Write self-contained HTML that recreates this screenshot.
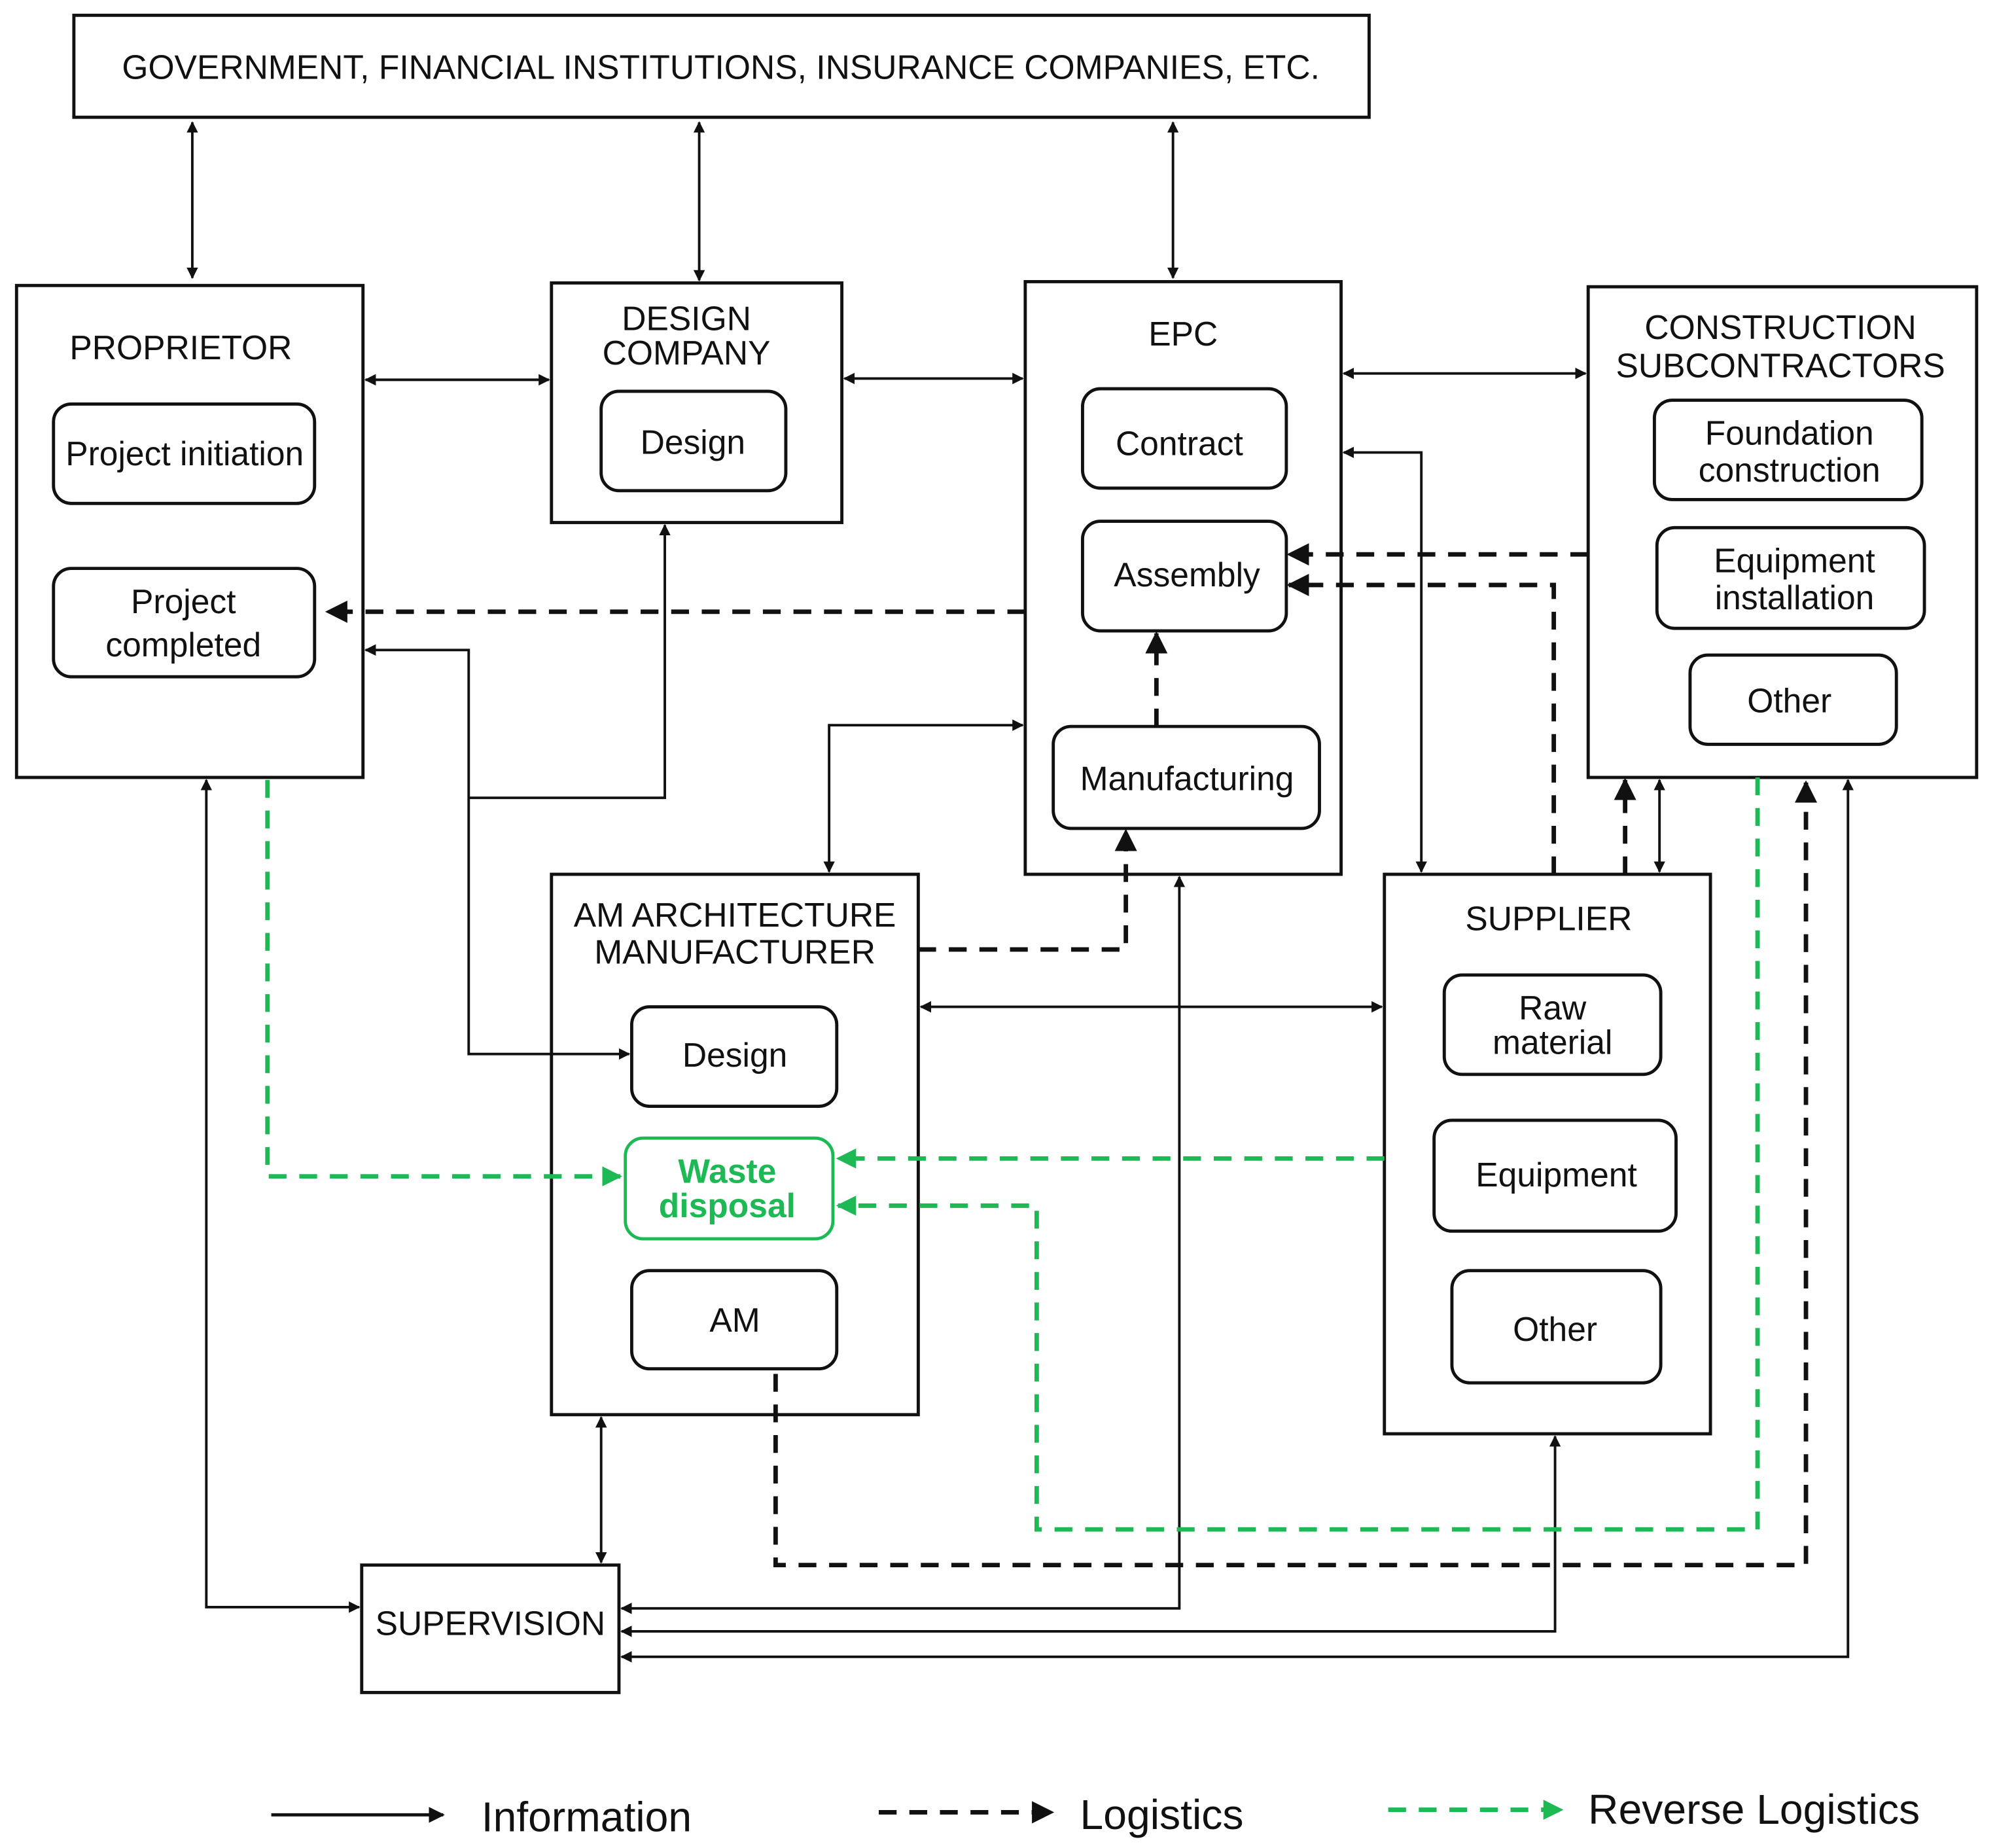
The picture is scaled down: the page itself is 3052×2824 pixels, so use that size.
<!DOCTYPE html>
<html><head><meta charset="utf-8"><style>
html,body{margin:0;padding:0;background:#fff;}
svg{display:block;}
text{font-family:"Liberation Sans",sans-serif;fill:#111;}
</style></head><body>
<svg width="3052" height="2824" viewBox="0 0 1568 1450" preserveAspectRatio="none" xmlns="http://www.w3.org/2000/svg">
<defs>
<marker id="a" viewBox="0 0 10 10" refX="9" refY="5" markerWidth="5" markerHeight="5" orient="auto-start-reverse"><path d="M0,0L10,5L0,10z" fill="#111"/></marker>
<marker id="b" viewBox="0 0 10 10" refX="9" refY="5" markerWidth="4.5" markerHeight="4.5" orient="auto-start-reverse"><path d="M0,0L10,5L0,10z" fill="#111"/></marker>
<marker id="g" viewBox="0 0 10 10" refX="9" refY="5" markerWidth="4.5" markerHeight="4.5" orient="auto-start-reverse"><path d="M0,0L10,5L0,10z" fill="#1db954"/></marker>
</defs>
<g fill="none" stroke="#111" stroke-width="2.5">
<rect x="58" y="12" width="1017" height="80"/>
<rect x="13" y="224" width="272" height="386"/>
<rect x="433" y="222" width="228" height="188"/>
<rect x="805" y="221" width="248" height="465"/>
<rect x="1247" y="225" width="305" height="385"/>
<rect x="433" y="686" width="288" height="424"/>
<rect x="1087" y="686" width="256" height="439"/>
<rect x="284" y="1228" width="202" height="100"/>
<rect x="42" y="317" width="205" height="78" rx="14"/>
<rect x="42" y="446" width="205" height="85" rx="14"/>
<rect x="472" y="307" width="145" height="78" rx="14"/>
<rect x="850" y="305" width="160" height="78" rx="14"/>
<rect x="850" y="409" width="160" height="86" rx="14"/>
<rect x="827" y="570" width="209" height="80" rx="14"/>
<rect x="1299" y="314" width="210" height="78" rx="14"/>
<rect x="1301" y="414" width="210" height="79" rx="14"/>
<rect x="1327" y="514" width="162" height="70" rx="14"/>
<rect x="496" y="790" width="161" height="78" rx="14"/>
<rect x="491" y="893" width="163" height="79" rx="14" stroke="#1db954"/>
<rect x="496" y="997" width="161" height="77" rx="14"/>
<rect x="1134" y="765" width="170" height="78" rx="14"/>
<rect x="1126" y="879" width="190" height="87" rx="14"/>
<rect x="1140" y="997" width="164" height="88" rx="14"/>
</g>
<g fill="none" stroke="#111" stroke-width="2">
<path d="M151,96V218" marker-start="url(#b)" marker-end="url(#b)"/>
<path d="M549,96V220" marker-start="url(#b)" marker-end="url(#b)"/>
<path d="M921,96V218" marker-start="url(#b)" marker-end="url(#b)"/>
<path d="M287,298H431" marker-start="url(#b)" marker-end="url(#b)"/>
<path d="M663,297H803" marker-start="url(#b)" marker-end="url(#b)"/>
<path d="M1055,293H1245" marker-start="url(#b)" marker-end="url(#b)"/>
<path d="M1055,355H1116V684" marker-start="url(#b)" marker-end="url(#b)"/>
<path d="M287,510H368V827H494" marker-start="url(#b)" marker-end="url(#b)"/>
<path d="M368,626H522V412" marker-end="url(#b)"/>
<path d="M651,684V569H803" marker-start="url(#b)" marker-end="url(#b)"/>
<path d="M1303,684V612" marker-start="url(#b)" marker-end="url(#b)"/>
<path d="M723,790H1085" marker-start="url(#b)" marker-end="url(#b)"/>
<path d="M162,612V1261H282" marker-start="url(#b)" marker-end="url(#b)"/>
<path d="M472,1112V1226" marker-start="url(#b)" marker-end="url(#b)"/>
<path d="M926,688V1262H488" marker-start="url(#b)" marker-end="url(#b)"/>
<path d="M1221,1127V1280H488" marker-start="url(#b)" marker-end="url(#b)"/>
<path d="M1451,612V1300H488" marker-start="url(#b)" marker-end="url(#b)"/>
</g>
<g fill="none" stroke="#111" stroke-width="3.5" stroke-dasharray="14,10">
<path d="M805,480H257" marker-end="url(#a)"/>
<path d="M721,745H884V652" marker-end="url(#a)"/>
<path d="M908,570V497" marker-end="url(#a)"/>
<path d="M1247,435H1012" marker-end="url(#a)"/>
<path d="M1220,686V459H1012" marker-end="url(#a)"/>
<path d="M1276,686V612" marker-end="url(#a)"/>
<path d="M609,1078V1228H1418V614" marker-end="url(#a)"/>
</g>
<g fill="none" stroke="#1db954" stroke-width="3.5" stroke-dasharray="14,10">
<path d="M1087,909H658" marker-end="url(#g)"/>
<path d="M1380,610V1200H814V946H658" marker-end="url(#g)"/>
<path d="M210,612V923H487" marker-end="url(#g)"/>
</g>
<g font-size="26.5" text-anchor="middle">
<text x="566" y="62">GOVERNMENT, FINANCIAL INSTITUTIONS, INSURANCE COMPANIES, ETC.</text>
<text x="142" y="282">PROPRIETOR</text>
<text x="145" y="365">Project initiation</text>
<text x="144" y="481">Project</text>
<text x="144" y="515">completed</text>
<text x="539" y="259">DESIGN</text>
<text x="539" y="286">COMPANY</text>
<text x="544" y="356">Design</text>
<text x="929" y="271">EPC</text>
<text x="926" y="357">Contract</text>
<text x="932" y="460">Assembly</text>
<text x="932" y="620">Manufacturing</text>
<text x="1398" y="266">CONSTRUCTION</text>
<text x="1398" y="296">SUBCONTRACTORS</text>
<text x="1405" y="349">Foundation</text>
<text x="1405" y="378">construction</text>
<text x="1409" y="449">Equipment</text>
<text x="1409" y="478">installation</text>
<text x="1405" y="559">Other</text>
<text x="577" y="727">AM ARCHITECTURE</text>
<text x="577" y="756">MANUFACTURER</text>
<text x="577" y="837">Design</text>
<text x="571" y="928" font-weight="bold" style="fill:#1db954">Waste</text>
<text x="571" y="955" font-weight="bold" style="fill:#1db954">disposal</text>
<text x="577" y="1045">AM</text>
<text x="1216" y="730">SUPPLIER</text>
<text x="1219" y="800">Raw</text>
<text x="1219" y="827">material</text>
<text x="1222" y="931">Equipment</text>
<text x="1221" y="1052">Other</text>
<text x="385" y="1283">SUPERVISION</text>
</g>
<path d="M213,1424H348" stroke="#111" stroke-width="2.5" fill="none" marker-end="url(#a)"/>
<path d="M690,1422H826" stroke="#111" stroke-width="3.5" stroke-dasharray="14,10" fill="none" marker-end="url(#a)"/>
<path d="M1090,1420H1226" stroke="#1db954" stroke-width="3.5" stroke-dasharray="14,10" fill="none" marker-end="url(#g)"/>
<g font-size="33">
<text x="378" y="1437">Information</text>
<text x="848" y="1435">Logistics</text>
<text x="1247" y="1431">Reverse Logistics</text>
</g>
</svg>
</body></html>
